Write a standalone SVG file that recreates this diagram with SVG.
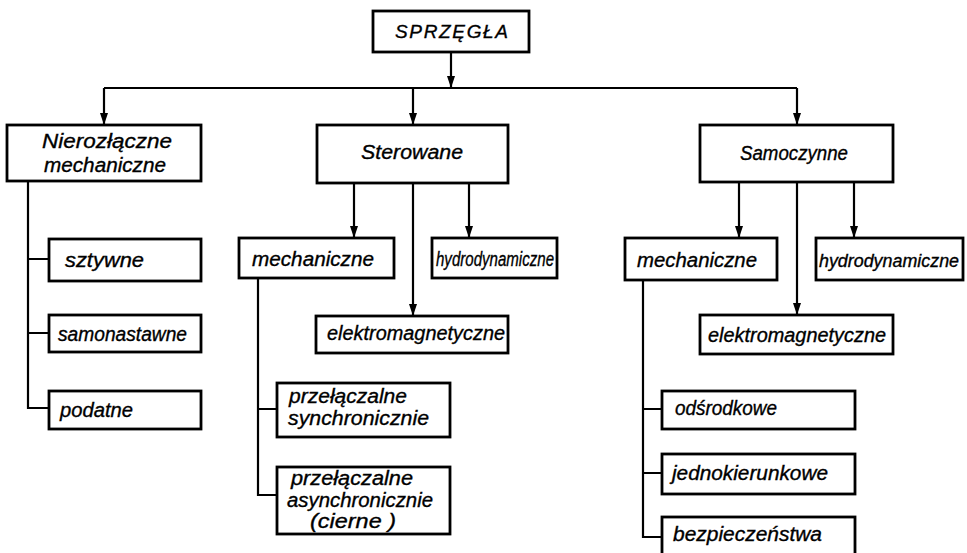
<svg xmlns="http://www.w3.org/2000/svg" width="967" height="553" viewBox="0 0 967 553">
  <style>
    .box { fill: #fff; stroke: #000; stroke-width: 2.8; }
    .lbl { font-family: "Liberation Sans", "DejaVu Sans", sans-serif; font-style: italic; font-size: 20px; fill: #000; stroke: #000; stroke-width: 0.35; }
    .ttl { font-family: "Liberation Sans", "DejaVu Sans", sans-serif; font-style: italic; font-size: 19px; fill: #000; stroke: #000; stroke-width: 0.35; }
    .ln { fill: none; stroke: #000; stroke-width: 2.2; }
    .arr { fill: none; stroke: #000; stroke-width: 2.2; marker-end: url(#ah); }
  </style>
  <defs>
    <marker id="ah" markerUnits="userSpaceOnUse" markerWidth="8" markerHeight="12" refX="4" refY="12" orient="0" viewBox="0 0 8 12">
      <path d="M0,0 L8,0 L4,12 Z" fill="#000"/>
    </marker>
  </defs>
  <rect width="967" height="553" fill="#fff"/>

  <!-- connectors -->
  <g id="connectors">
    <!-- root to main bus -->
    <line class="arr" x1="451" y1="52" x2="451" y2="88"/>
    <line class="ln" x1="104" y1="88" x2="797" y2="88"/>
    <line class="arr" x1="104" y1="88" x2="104" y2="125"/>
    <line class="arr" x1="413" y1="88" x2="413" y2="125"/>
    <line class="arr" x1="797" y1="88" x2="797" y2="125"/>

    <!-- Nierozłączne branch -->
    <path class="ln" d="M28,181 V408 H49 M28,259 H49 M28,333 H49"/>

    <!-- Sterowane branch -->
    <line class="arr" x1="354" y1="183" x2="354" y2="238"/>
    <line class="arr" x1="469" y1="183" x2="469" y2="238"/>
    <line class="arr" x1="413" y1="183" x2="413" y2="316"/>
    <path class="ln" d="M258,278 V495 H277 M258,409 H277"/>

    <!-- Samoczynne branch -->
    <line class="arr" x1="739" y1="182" x2="739" y2="238"/>
    <line class="arr" x1="854" y1="182" x2="854" y2="238"/>
    <line class="arr" x1="797" y1="182" x2="797" y2="315"/>
    <path class="ln" d="M643,280 V537 H662 M643,409 H662 M643,473 H662"/>
  </g>

  <g id="sprzegla">
    <rect class="box" x="373" y="11" width="156" height="41"/>
    <text class="ttl" x="395" y="38" textLength="113" lengthAdjust="spacing">SPRZĘGŁA</text>
  </g>

  <g id="nierozlaczne">
    <rect class="box" x="7" y="125" width="194" height="56"/>
    <text class="lbl" x="42" y="148" textLength="130" lengthAdjust="spacingAndGlyphs">Nierozłączne</text>
    <text class="lbl" x="44" y="172" textLength="122" lengthAdjust="spacingAndGlyphs">mechaniczne</text>
  </g>
  <g id="sztywne">
    <rect class="box" x="49" y="239" width="152" height="42"/>
    <text class="lbl" x="65" y="267" textLength="79" lengthAdjust="spacingAndGlyphs">sztywne</text>
  </g>
  <g id="samonastawne">
    <rect class="box" x="49" y="315" width="152" height="37"/>
    <text class="lbl" x="58" y="341" textLength="129" lengthAdjust="spacingAndGlyphs">samonastawne</text>
  </g>
  <g id="podatne">
    <rect class="box" x="49" y="391" width="152" height="38"/>
    <text class="lbl" x="60" y="417" textLength="73" lengthAdjust="spacingAndGlyphs">podatne</text>
  </g>

  <g id="sterowane">
    <rect class="box" x="317" y="125" width="191" height="58"/>
    <text class="lbl" x="361" y="159" textLength="102" lengthAdjust="spacingAndGlyphs">Sterowane</text>
  </g>
  <g id="ster-mechaniczne">
    <rect class="box" x="239" y="238" width="155" height="40"/>
    <text class="lbl" x="252" y="266" textLength="122" lengthAdjust="spacingAndGlyphs">mechaniczne</text>
  </g>
  <g id="ster-hydrodynamiczne">
    <rect class="box" x="432" y="238" width="125" height="40"/>
    <text class="lbl" x="436" y="266" textLength="118" lengthAdjust="spacingAndGlyphs">hydrodynamiczne</text>
  </g>
  <g id="ster-elektromagnetyczne">
    <rect class="box" x="316" y="316" width="192" height="37"/>
    <text class="lbl" x="327" y="340" textLength="178" lengthAdjust="spacingAndGlyphs">elektromagnetyczne</text>
  </g>
  <g id="przel-synchroniczne">
    <rect class="box" x="277" y="383" width="173" height="54"/>
    <text class="lbl" x="289" y="403" textLength="118" lengthAdjust="spacingAndGlyphs">przełączalne</text>
    <text class="lbl" x="288" y="425" textLength="141" lengthAdjust="spacingAndGlyphs">synchronicznie</text>
  </g>
  <g id="przel-asynchroniczne">
    <rect class="box" x="277" y="467" width="173" height="67"/>
    <text class="lbl" x="291" y="485" textLength="122" lengthAdjust="spacingAndGlyphs">przełączalne</text>
    <text class="lbl" x="287" y="507" textLength="146" lengthAdjust="spacingAndGlyphs">asynchronicznie</text>
    <text class="lbl" x="310" y="528" textLength="86" lengthAdjust="spacingAndGlyphs">(cierne )</text>
  </g>

  <g id="samoczynne">
    <rect class="box" x="700" y="125" width="193" height="57"/>
    <text class="lbl" x="740" y="160" textLength="108" lengthAdjust="spacingAndGlyphs">Samoczynne</text>
  </g>
  <g id="samo-mechaniczne">
    <rect class="box" x="625" y="238" width="152" height="42"/>
    <text class="lbl" x="637" y="267" textLength="120" lengthAdjust="spacingAndGlyphs">mechaniczne</text>
  </g>
  <g id="samo-hydrodynamiczne">
    <rect class="box" x="816" y="238" width="147" height="42"/>
    <text class="lbl" x="819" y="267" font-size="18" textLength="140" lengthAdjust="spacingAndGlyphs" style="font-size:18px">hydrodynamiczne</text>
  </g>
  <g id="samo-elektromagnetyczne">
    <rect class="box" x="700" y="315" width="193" height="39"/>
    <text class="lbl" x="708" y="342" textLength="178" lengthAdjust="spacingAndGlyphs">elektromagnetyczne</text>
  </g>
  <g id="odsrodkowe">
    <rect class="box" x="662" y="391" width="193" height="38"/>
    <text class="lbl" x="675" y="415" textLength="102" lengthAdjust="spacingAndGlyphs">odśrodkowe</text>
  </g>
  <g id="jednokierunkowe">
    <rect class="box" x="662" y="454" width="193" height="40"/>
    <text class="lbl" x="672" y="480" textLength="156" lengthAdjust="spacingAndGlyphs">jednokierunkowe</text>
  </g>
  <g id="bezpieczenstwa">
    <rect class="box" x="662" y="517" width="193" height="40"/>
    <text class="lbl" x="673" y="541" textLength="149" lengthAdjust="spacingAndGlyphs">bezpieczeństwa</text>
  </g>
</svg>
